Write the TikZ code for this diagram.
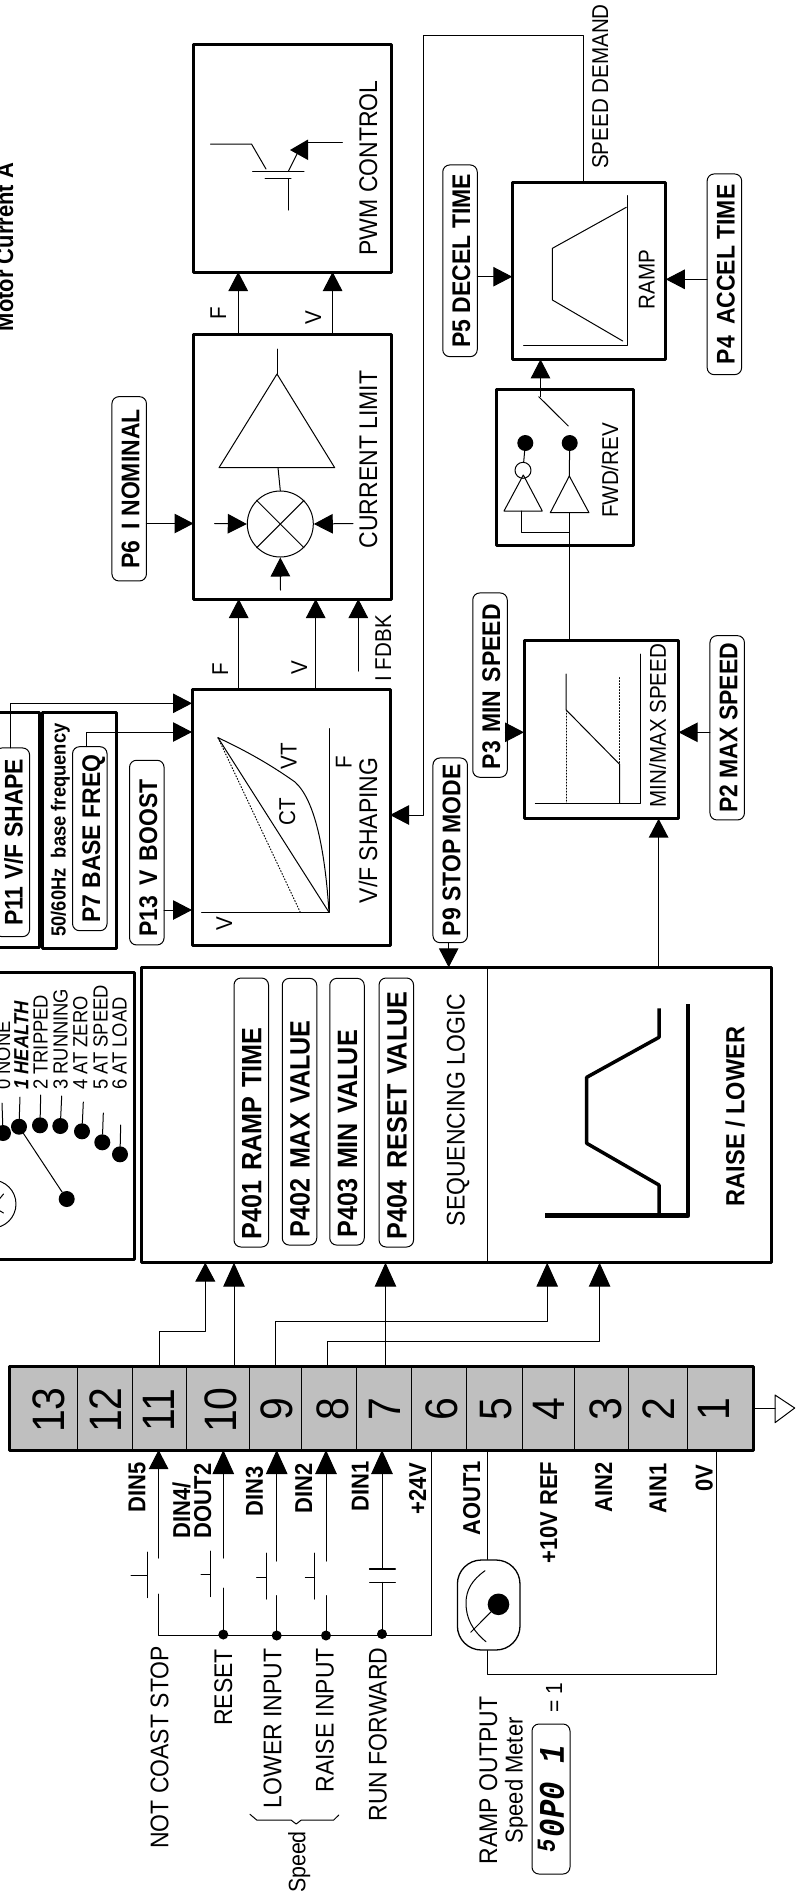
\documentclass[tikz,border=0pt]{standalone}
\usepackage{fontspec}
\setmainfont[FakeStretch=0.9,Scale=1.11]{Liberation Sans}
\setmonofont[FakeStretch=0.85]{Liberation Mono}
\usetikzlibrary{arrows.meta}

\tikzset{
  blockbox/.style={draw,line width=3pt,inner sep=0pt,outer sep=0pt},
  pill/.style={draw,line width=1pt,rounded corners=7pt,rotate=90,inner ysep=0pt,inner xsep=1pt,outer sep=0pt,
    minimum height=34.5pt,text height=20.4pt,text depth=0pt,font=\bfseries\fontsize{23}{23}\selectfont},
  pillleft/.style={pill,inner xsep=8pt,align=left},
  lbl/.style={rotate=90,anchor=base,inner sep=0pt,font=\fontsize{23}{23}\selectfont},
  smalllbl/.style={lbl,font=\fontsize{20.6}{21}\selectfont},
  boldlbl/.style={lbl,font=\bfseries\fontsize{22}{22}\selectfont},
  statuslbl/.style={lbl,anchor=base west,font=\fontsize{18.4}{19}\selectfont},
  termnum/.style={lbl,font=\fontsize{41}{41}\selectfont},
  wire/.style={line width=1pt},
  conn/.style={wire,-{Triangle[length=19pt,width=19.5pt]}},
  connbig/.style={wire,-{Triangle[length=24pt,width=21.5pt]}},
  sdot/.style={circle,fill,inner sep=0pt,minimum size=16pt},
  jdot/.style={circle,fill,inner sep=0pt,minimum size=10pt},
}

\begin{document}
\begin{tikzpicture}[x=1pt,y=-1pt,line cap=round,line join=round]
  \useasboundingbox (0,0) rectangle (805,1899);
  \node[lbl,font=\bfseries\fontsize{22}{22}\selectfont] (motorcurrent) at (13,247) {Motor Current A};

  % blocks
  \node[blockbox,minimum width=198.2pt,minimum height=228pt] (pwm) at (292.6,158) {};
  \node[blockbox,minimum width=198.2pt,minimum height=265pt] (clim) at (292.6,466.5) {};
  \node[blockbox,minimum width=198pt,minimum height=255.7pt] (vfs) at (291,817.2) {};
  \node[blockbox,minimum width=153.5pt,minimum height=177.3pt] (ramp) at (589,270.7) {};
  \node[blockbox,minimum width=136.6pt,minimum height=155.7pt] (fwdrev) at (565,467.2) {};
  \node[blockbox,minimum width=154.6pt,minimum height=178.4pt] (minmax) at (601.3,729.5) {};
  \node[blockbox,minimum width=629.3pt,minimum height=295.4pt] (logic) at (456.35,1115) {};
  \node[blockbox,minimum width=139pt,minimum height=287pt] (status) at (64.5,1115.8) {};
  \node[blockbox,minimum width=44.3pt,minimum height=235.4pt] (vfshapebox) at (17.15,830) {};
  \node[blockbox,minimum width=74.4pt,minimum height=236pt] (basefreqbox) at (79.5,830.3) {};
  \draw[line width=1pt] (logic.north -| 487.7,0) -- (logic.south -| 487.7,0);

  % block captions
  \node[lbl] (pwmtxt) at (377,168) {PWM CONTROL};
  \node[lbl] (climtxt) at (377,459.5) {CURRENT LIMIT};
  \node[lbl] (vfstxt) at (377,830.5) {V/F SHAPING};
  \node[smalllbl] (ramptxt) at (654.5,279.5) {RAMP};
  \node[smalllbl] (fwdtxt) at (618,470.5) {FWD/REV};
  \node[smalllbl] (minmaxtxt) at (665.8,725.5) {MIN/MAX SPEED};
  \node[smalllbl] (demandtxt) at (608,86.5) {SPEED DEMAND};
  \node[smalllbl] (fdbktxt) at (391,648.3) {I FDBK};
  \node[lbl] (seqtxt) at (464.6,1110) {SEQUENCING LOGIC};
  \node[lbl,font=\bfseries\fontsize{23.6}{24}\selectfont] (raisetxt) at (744.4,1116.5) {RAISE / LOWER};
  \node[smalllbl] (ftxta) at (226,313) {F};
  \node[smalllbl] (vtxta) at (321,318) {V};
  \node[smalllbl] (ftxtb) at (228,669) {F};
  \node[smalllbl] (vtxtb) at (307,667.5) {V};

  % parameter boxes
  \node[pill,minimum width=184.3pt] (p6) at (129.2,488.8) {P6\hspace{11pt}I NOMINAL};
  \node[pill,minimum width=191.7pt] (p5) at (460,260.8) {P5 DECEL TIME};
  \node[pill,minimum width=200.7pt] (p4) at (724.4,274.3) {P4\hspace{11pt}ACCEL TIME};
  \node[pillleft,text width=168.3pt] (p3) at (490,685.1) {P3 MIN SPEED};
  \node[pill,minimum width=184.3pt] (p2) at (727.2,727.8) {P2 MAX SPEED};
  \node[pill,minimum width=184.7pt] (p9) at (450.2,850.3) {P9 STOP MODE};
  \node[pillleft,text width=168.7pt] (p13) at (146.8,852.6) {P13\hspace{11pt}V BOOST};
  \node[pill,minimum width=184pt] (p7) at (89.8,838.7) {P7 BASE FREQ};
  \node[pill,minimum width=188.7pt] (p11) at (12.35,842.3) {P11 V/F SHAPE};
  \node[pillleft,text width=253pt,font=\bfseries\fontsize{25.2}{25}\selectfont] (p401) at (251.25,1112.5) {P401 RAMP TIME};
  \node[pillleft,text width=250.7pt,font=\bfseries\fontsize{25.2}{25}\selectfont] (p402) at (299.5,1111.7) {P402 MAX VALUE};
  \node[pillleft,text width=250.7pt,font=\bfseries\fontsize{25.2}{25}\selectfont] (p403) at (347,1111.7) {P403 MIN VALUE};
  \node[pillleft,text width=253pt,font=\bfseries\fontsize{25.2}{25}\selectfont] (p404) at (396.3,1112.5) {\mbox{P404\hspace{12pt}RESET VALUE}};
  \node[lbl,font=\bfseries\fontsize{18.4}{19}\selectfont] (basehz) at (65.7,830) {50/60Hz\hspace{10pt}base frequency};

  % flow between blocks
  \draw[conn] (238.2,0 |- clim.north) -- (238.2,0 |- pwm.south);
  \draw[conn] (332.6,0 |- clim.north) -- (332.6,0 |- pwm.south);
  \draw[conn] (238.7,0 |- vfs.north) -- (238.7,0 |- clim.south);
  \draw[conn] (315.7,0 |- vfs.north) -- (315.7,0 |- clim.south);
  \coordinate (fdbkend) at (358.3,671);
  \draw[conn] (fdbkend) -- (fdbkend |- clim.south);
  \draw[conn] (p6.south |- 0,523.5) -- (clim.west |- 0,523.5);
  \draw[conn] (p5.south |- 0,276.7) -- (ramp.west |- 0,276.7);
  \draw[conn] (p4.north |- 0,279.3) -- (ramp.east |- 0,279.3);
  \draw[conn] (p3.south |- 0,732.3) -- (minmax.west |- 0,732.3);
  \draw[conn] (p2.north |- 0,732.3) -- (minmax.east |- 0,732.3);
  \draw[conn] (p13.south |- 0,910) -- (vfs.west |- 0,910);
  \draw[conn] (86.3,0 |- p7.east) |- (vfs.west |- 0,732);
  \draw[conn] (10.3,0 |- p11.east) |- (vfs.west |- 0,703.3);
  \draw[conn] (448.7,0 |- p9.west) -- (448.7,0 |- logic.north);
  \draw[conn,line width=1.5pt] (658.6,0 |- logic.north) -- (658.6,0 |- minmax.south);
  \draw[wire] (569.3,0 |- minmax.north) -- (569.3,512.7);
  \draw[conn] (583.7,0 |- ramp.north) -- (583.7,35.7) -- (423.5,35.7) |- (vfs.east |- 0,815);
  \coordinate (swtop) at (540.5,396.5);
  \draw[conn] (swtop) -- (swtop |- ramp.south);

  % transistor in PWM block
  \draw[wire] (210.5,144) -- (251.5,144) -- (266,169);
  \draw[wire] (252.6,171) -- (304,171);
  \draw[wire] (265,178.7) -- (291,178.7);
  \draw[wire] (288.5,178.7) -- (288.5,210);
  \draw[wire] (288.5,171) -- (298,152);
  \fill (308,139.5) -- (290,150) -- (308,160) -- cycle;
  \draw[wire] (308,142) -- (342.4,142);

  % amplifier and summing point
  \draw[wire] (277,349) -- (277,374);
  \draw[wire] (277,374) -- (219,467.7) -- (334.7,467.7) -- cycle;
  \node[draw,line width=1pt,circle,inner sep=0pt,minimum size=66pt] (mix) at (280.3,524) {};
  \draw[wire] (278,467.7) -- (mix.north);
  \draw[wire] (mix.45) -- (mix.225);
  \draw[wire] (mix.135) -- (mix.315);
  \coordinate (mixleft) at (214.6,523.5);
  \coordinate (mixright) at (353,523.5);
  \coordinate (mixlow) at (280.5,590);
  \draw[conn] (mixleft) -- (mix.west);
  \draw[conn] (mixright) -- (mix.east);
  \draw[conn] (mixlow) -- (mix.south);

  % ramp graph
  \draw[wire] (627.8,195.7) -- (627.8,345) -- (523.6,345);
  \draw[wire] (622.7,341) -- (552.4,300) -- (552.4,248.3) -- (626.3,207.3);

  % direction switch
  \draw[wire] (538.7,396.7) -- (568.3,426);
  \node[sdot] (dotfwd) at (525.3,443) {};
  \node[sdot] (dotrev) at (569.7,443) {};
  \node[draw,line width=1pt,circle,inner sep=0pt,minimum size=16pt] (invert) at (523,470.3) {};
  \draw[wire] (dotfwd) -- (invert);
  \draw[wire] (523.3,475) -- (504,511) -- (542.3,511) -- cycle;
  \draw[wire] (569.3,476) -- (550.3,512.7) -- (589,512.7) -- cycle;
  \draw[wire] (dotrev) -- (569.3,476);
  \draw[wire] (521.7,511) -- (521.7,532.3) -- (569.3,532.3);

  % V/F graph
  \draw[wire] (201.7,912.3) -- (329,912.3) -- (329,728.7);
  \draw[wire] (218,737.7) -- (329,912.3);
  \draw[line width=1pt,dotted] (218,737.7) -- (300.3,912.3);
  \draw[wire] (218,737.7) .. controls (255,755) and (278,770) .. (295,782)
    .. controls (315,800) and (325,850) .. (329,912.3);
  \node[smalllbl] (vttxt) at (296.7,756) {VT};
  \node[smalllbl] (cttxt) at (295,811.5) {CT};
  \node[smalllbl] (faxis) at (351.6,762) {F};
  \node[smalllbl] (vaxis) at (232,924) {V};

  % min/max graph
  \draw[wire] (535.4,803.3) -- (640,803.3) -- (640,654);
  \draw[wire] (566.2,674) -- (566.2,710) -- (619.6,764.3) -- (619.6,803.3);
  \draw[line width=1pt,dotted] (566.2,710) -- (566.2,803.3);
  \draw[line width=1pt,dotted] (619.6,677.7) -- (619.6,764.3);

  % raise/lower graph
  \draw[line width=4.5pt,line cap=butt] (545.2,1215.7) -- (688,1215.7) -- (688,1004);
  \draw[line width=3.5pt,line cap=butt] (659,1215.7) -- (659,1185) -- (586.7,1143.3) -- (586.7,1077.3) -- (659,1037.3) -- (659,1008.3);

  % relay outputs
  \node[sdot] (out0) at (3,1133) {};
  \node[sdot] (out1) at (19,1126.7) {};
  \node[sdot] (out2) at (40,1125.3) {};
  \node[sdot] (out3) at (60.3,1126) {};
  \node[sdot] (out4) at (82,1131.3) {};
  \node[sdot] (out5) at (102.3,1142.3) {};
  \node[sdot] (out6) at (120,1154.3) {};
  \node[sdot] (pivot) at (66.7,1199) {};
  \draw[wire] (pivot) -- (out1);
  \draw[wire] (out0) -- (2,1103);
  \draw[wire] (out1) -- (20,1097);
  \draw[wire] (out2) -- (40.7,1095);
  \draw[wire] (out3) -- (61.7,1096);
  \draw[wire] (out4) -- (83.3,1102);
  \draw[wire] (out5) -- (103.3,1113);
  \draw[wire] (out6) -- (120.7,1125);
  \node[draw,line width=1pt,circle,inner sep=0pt,minimum size=48pt] (relay) at (-8,1204) {};
  \draw[wire] (-8,1208) -- (3.5,1194);
  \draw[wire] (-8,1206) -- (3.5,1213);
  \node[statuslbl] (stat0) at (10,1090) {0 NONE};
  \node[statuslbl,font=\bfseries\itshape\fontsize{18.4}{19}\selectfont] (stat1) at (28.3,1090) {1 HEALTH};
  \node[statuslbl] (stat2) at (47.7,1090) {2 TRIPPED};
  \node[statuslbl] (stat3) at (67.7,1090) {3 RUNNING};
  \node[statuslbl] (stat4) at (87.3,1090) {4 AT ZERO};
  \node[statuslbl] (stat5) at (107.7,1090) {5 AT SPEED};
  \node[statuslbl] (stat6) at (126.7,1090) {6 AT LOAD};

  % terminal strip
  \node[draw,fill=black!25,line width=3pt,inner sep=0pt,outer sep=0pt,minimum width=743.8pt,minimum height=84pt] (term) at (381.1,1408) {};
  \draw[wire] (77.5,1366) -- (77.5,1450);
  \draw[wire] (132.4,1366) -- (132.4,1450);
  \draw[wire] (186.9,1366) -- (186.9,1450);
  \draw[wire] (249.5,1366) -- (249.5,1450);
  \draw[wire] (301.8,1366) -- (301.8,1450);
  \draw[wire] (356.3,1366) -- (356.3,1450);
  \draw[wire] (411.2,1366) -- (411.2,1450);
  \draw[wire] (466.6,1366) -- (466.6,1450);
  \draw[wire] (522.6,1366) -- (522.6,1450);
  \draw[wire] (574.5,1366) -- (574.5,1450);
  \draw[wire] (628.3,1366) -- (628.3,1450);
  \draw[wire] (687.9,1366) -- (687.9,1450);
  \node[termnum] (t13) at (64,1410) {13};
  \node[termnum] (t12) at (121.7,1410) {12};
  \node[termnum] (t11) at (174.5,1410) {11};
  \node[termnum] (t10) at (236,1410) {10};
  \node[termnum] (t9) at (292.6,1409) {9};
  \node[termnum] (t8) at (348,1409) {8};
  \node[termnum] (t7) at (400,1409) {7};
  \node[termnum] (t6) at (457,1409) {6};
  \node[termnum] (t5) at (511.8,1409) {5};
  \node[termnum] (t4) at (564.7,1409) {4};
  \node[termnum] (t3) at (621,1409) {3};
  \node[termnum] (t2) at (674,1409) {2};
  \node[termnum] (t1) at (729,1409) {1};

  % ground mark
  \node[draw,line width=1pt,inner sep=0pt,minimum size=0pt] (gndtip) at (794.7,1408) {};
  \draw[wire,fill=white] (775,1395) -- (gndtip.center) -- (775,1422.7) -- cycle;
  \draw[wire] (term.east) -- (775,1408);

  % strip to logic block
  \draw[conn,-{Triangle[length=19pt,width=20pt]}] (159,0 |- term.north) |- (205.3,1331) -- (205.3,0 |- logic.south);
  \draw[connbig] (234,0 |- term.north) -- (234,0 |- logic.south);
  \draw[connbig] (275.7,0 |- term.north) |- (547.2,1321) -- (547.2,0 |- logic.south);
  \draw[connbig] (327.5,0 |- term.north) |- (599.6,1341) -- (599.6,0 |- logic.south);
  \draw[connbig] (385.5,0 |- term.north) -- (385.5,0 |- logic.south);

  % input contacts
  \coordinate (busleft) at (158.6,1635.7);
  \coordinate (busright) at (431.7,1635.7);
  \draw[conn] (158.6,1558) -- (158.6,0 |- term.south);
  \draw[wire] (158.6,1594) -- (busleft) -- (busright) -- (431.7,0 |- term.south);
  \draw[wire] (147.3,1552) -- (147.3,1597.7);
  \draw[wire] (131,1575.7) -- (147.3,1575.7);
  \draw[connbig] (223.3,1558) -- (223.3,0 |- term.south);
  \draw[wire] (223.3,1588) -- (223.3,1635.7);
  \draw[wire] (210,1551) -- (210,1596.7);
  \draw[wire] (201,1574.3) -- (210,1574.3);
  \draw[connbig] (276.7,1561) -- (276.7,0 |- term.south);
  \draw[wire] (276.7,1595.7) -- (276.7,1635.7);
  \draw[wire] (266,1553) -- (266,1599);
  \draw[wire] (256.7,1577.3) -- (266,1577.3);
  \draw[connbig] (326,1561) -- (326,0 |- term.south);
  \draw[wire] (326,1595.7) -- (326,1635.7);
  \draw[wire] (314.7,1553) -- (314.7,1599);
  \draw[wire] (305.4,1577) -- (314.7,1577);
  \draw[connbig] (382,1569) -- (382,0 |- term.south);
  \draw[wire] (382,1582.3) -- (382,1635.7);
  \draw[line width=1.5pt] (369.6,1569) -- (395.3,1569);
  \draw[wire] (369.6,1582.3) -- (395.3,1582.3);
  \node[jdot] (j10) at (223.3,1634.5) {};
  \node[jdot] (j9) at (276.7,1635.5) {};
  \node[jdot] (j8) at (326,1635.5) {};
  \node[jdot] (j7) at (382,1634) {};

  % terminal names
  \node[boldlbl] (din5) at (145.3,1487) {DIN5};
  \node[rotate=90,anchor=west,inner sep=0pt,align=left,font=\bfseries\fontsize{22}{21}\selectfont] (din4) at (192,1538.3) {DIN4/\\DOUT2};
  \node[boldlbl] (din3) at (262.8,1491) {DIN3};
  \node[boldlbl] (din2) at (312,1488.7) {DIN2};
  \node[boldlbl] (din1) at (368.6,1486.7) {DIN1};
  \node[boldlbl] (plus24) at (426,1488.3) {+24V};
  \node[boldlbl] (aout1) at (480,1498.5) {AOUT1};
  \node[boldlbl] (plus10) at (557,1512.8) {+10V REF};
  \node[boldlbl] (ain2) at (612,1487.5) {AIN2};
  \node[boldlbl] (ain1) at (666.3,1488) {AIN1};
  \node[boldlbl] (zerov) at (712.5,1478) {0V};

  % input names
  \node[lbl] (coast) at (168.4,1747.4) {NOT COAST STOP};
  \node[lbl] (reset) at (232,1687.4) {RESET};
  \node[lbl] (lower) at (281.3,1728.4) {LOWER INPUT};
  \node[lbl] (raise) at (333.7,1720.4) {RAISE INPUT};
  \node[lbl] (runfwd) at (386.5,1734.4) {RUN FORWARD};
  \draw[wire] (250,1814.3) -- (256.7,1820) -- (291,1820) -- (296.2,1824) -- (301.3,1820) -- (333.7,1820) -- (338.8,1815);
  \node[lbl,font=\fontsize{21.4}{22}\selectfont] (speedtxt) at (305.4,1862) {Speed};

  % speed meter
  \node[draw,line width=1.3pt,rounded corners=24pt,inner sep=0pt,minimum width=62.6pt,minimum height=90pt] (meter) at (488.7,1605) {};
  \draw[wire] (487.2,0 |- term.south) -- (487.2,0 |- meter.north);
  \draw[wire] (487.2,0 |- meter.south) -- (487.2,1674.3) -- (716.6,1674.3) -- (716.6,0 |- term.south);
  \node[circle,fill,inner sep=0pt,minimum size=21.6pt] (needle) at (498.5,1604.3) {};
  \draw[wire] (needle) -- (470.7,1632.3);
  \draw[wire] (485,1570.7) .. controls (472,1580) and (466,1590) .. (466,1603)
    .. controls (466,1618) and (472,1630) .. (486,1641.7);
  \node[lbl] (rampout) at (497,1780.5) {RAMP OUTPUT};
  \node[lbl,font=\fontsize{22}{22}\selectfont] (metertxt) at (522.6,1780.3) {Speed Meter};
  \node[lbl,font=\fontsize{21}{21}\selectfont] (eqone) at (562,1697.5) {= 1};
  \node[draw,line width=1pt,rounded corners=7pt,rotate=90,inner xsep=1pt,inner ysep=0pt,outer sep=0pt,minimum width=150pt,minimum height=38pt,
    font=\ttfamily\bfseries\itshape\fontsize{36}{36}\selectfont] (display) at (551,1799) {\raisebox{9pt}{\fontsize{26}{26}\selectfont 5}\hspace{2pt}0P0 1};
\end{tikzpicture}
\end{document}
